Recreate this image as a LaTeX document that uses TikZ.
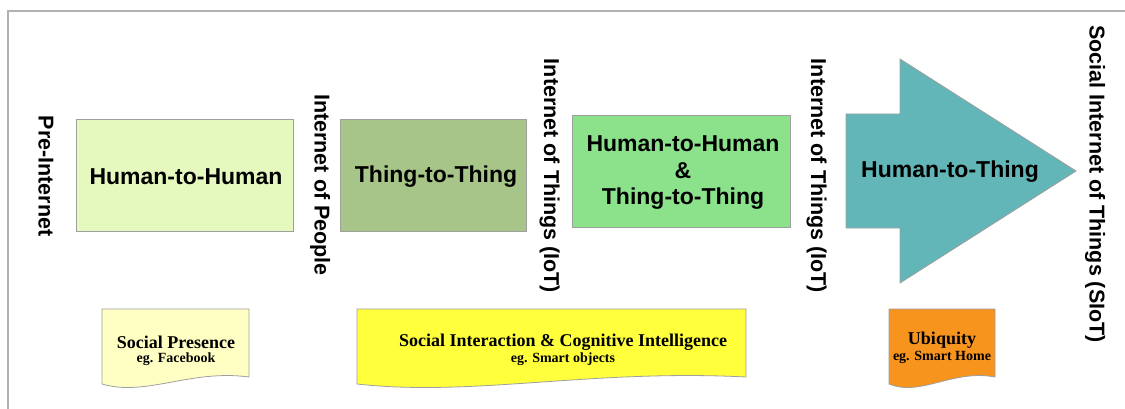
\documentclass[tikz,border=0pt]{standalone}
\usepackage{fontspec}
\setmainfont{Liberation Serif}
\setsansfont{Liberation Sans}
\begin{document}
\begin{tikzpicture}[x=1pt,y=-1pt,
  stagebox/.style={draw=gray!75,line width=0.8pt},
  stagelabel/.style={font=\sffamily\bfseries\fontsize{23}{26}\selectfont,align=center,inner sep=0pt},
  eralabel/.style={font=\sffamily\bfseries\fontsize{21.5}{24}\selectfont,rotate=-90,anchor=base,inner sep=0pt},
  doctitle/.style={font=\rmfamily\bfseries\fontsize{18}{20}\selectfont,inner sep=0pt},
  docsub/.style={font=\rmfamily\bfseries\fontsize{14}{16}\selectfont,inner sep=0pt},
  docshape/.style={draw=gray!75,line width=0.8pt}]
\definecolor{hhfill}{HTML}{E5F9BF}
\definecolor{ttfill}{HTML}{A7C589}
\definecolor{bothfill}{HTML}{8BE28B}
\definecolor{htfill}{HTML}{62B6B7}
\definecolor{presfill}{HTML}{FFFFC4}
\definecolor{interfill}{HTML}{FFFF3C}
\definecolor{ubiqfill}{HTML}{F7941E}
\useasboundingbox (0,0) rectangle (1125,409);

% frame
\draw[gray!60,line width=1.5pt] (8,409) -- (8,11) -- (1125,11);

% stage boxes
\draw[stagebox,fill=hhfill] (76,119) rectangle (293,231);
\node[stagelabel] (hh) at (186,177) {Human-to-Human};
\draw[stagebox,fill=ttfill] (340,119) rectangle (526,231);
\node[stagelabel] (tt) at (436,177) {Thing-to-Thing};
\draw[stagebox,fill=bothfill] (572,115) rectangle (790,227);
\node[stagelabel] (both) at (683,173) {Human-to-Human\\[0.5pt]\&\\[0.5pt]Thing-to-Thing};

% big arrow
\draw[stagebox,fill=htfill] (846,114) -- (900,114) -- (900,59) -- (1076,171)
  -- (900,283) -- (900,228) -- (846,228) -- cycle;
\node[stagelabel] (ht) at (950,172) {Human-to-Thing};

% era labels
\node[eralabel] (pre) at (38.5,176) {Pre-Internet};
\node[eralabel] (iop) at (314.5,185) {Internet of People};
\node[eralabel] (iot1) at (544,176) {Internet of Things (IoT)};
\node[eralabel] (iot2) at (811,176) {Internet of Things (IoT)};
\node[eralabel] (siot) at (1089.5,184) {Social Internet of Things (SIoT)};

% document shapes with a wavy lower edge
\foreach \xa/\xb/\col in {102/249/presfill,357/746/interfill,889/995/ubiqfill}{
  \pgfmathsetmacro{\w}{\xb-\xa}
  \draw[docshape,fill=\col] (\xa,309) -- (\xb,309) -- (\xb,377)
    .. controls (\xb-0.4*\w,369) and (\xa+0.3*\w,397) .. (\xa,384) -- cycle;
}
\node[doctitle] (pres) at (176,342) {Social Presence};
\node[docsub] (presx) at (176,359) {eg. Facebook};
\node[doctitle] (inter) at (563,342) {Social Interaction \& Cognitive Intelligence};
\node[docsub] (interx) at (563,359) {eg. Smart objects};
\node[doctitle] (ubiq) at (942,340) {Ubiquity};
\node[docsub] (ubiqx) at (942,357) {eg. Smart Home};
\end{tikzpicture}
\end{document}
